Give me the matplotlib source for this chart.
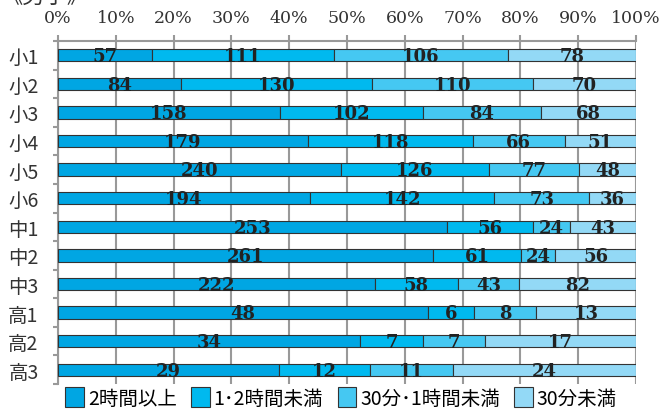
import matplotlib.pyplot as plt
import numpy as np

grades = ['小1', '小2', '小3', '小4', '小5', '小6', '中1', '中2', '中3', '高1', '高2', '高3']
over_2h = [57, 84, 158, 179, 240, 194, 253, 261, 222, 48, 34, 29]
h1_to_2 = [111, 130, 102, 118, 126, 142, 56, 61, 58, 6, 7, 12]
m30_to_1h = [106, 110, 84, 66, 77, 73, 24, 24, 43, 8, 7, 11]
under_30m = [78, 70, 68, 51, 48, 36, 43, 56, 82, 13, 17, 24]
legend_labels = ['2時間以上', '1･2時間未満', '30分･1時間未満', '30分未満']

colors = ['#00a6e3', '#00b9ef', '#45c8f2', '#93d9f6']
cjk = ['Noto Sans CJK JP', 'DejaVu Sans']

series = np.array([over_2h, h1_to_2, m30_to_1h, under_30m], dtype=float)
pct = series / series.sum(axis=0) * 100

fig = plt.figure(figsize=(6.61, 4.10), dpi=100)
ax = fig.add_axes([58 / 661, 1 - 385 / 410, (636 - 58) / 661, (385 - 42) / 410])

y = np.arange(len(grades))
left = np.zeros(len(grades))
for k in range(4):
    ax.barh(y, pct[k], left=left, height=0.43, color=colors[k],
            edgecolor='#333333', linewidth=0.8, label=legend_labels[k], zorder=3)
    for i in range(len(grades)):
        ax.text(left[i] + pct[k][i] / 2, y[i] + 0.03, f'{int(series[k][i])}',
                ha='center', va='center', fontsize=13, fontweight='bold',
                family='DejaVu Serif', color='#222222', zorder=4)
    left += pct[k]

ax.set_xlim(0, 100)
ax.set_ylim(len(grades) - 0.5, -0.5)

# percent scale along the top
ax.xaxis.tick_top()
ax.set_xticks(np.arange(0, 101, 10))
ax.set_xticklabels([f'{v}%' for v in range(0, 101, 10)], family='DejaVu Serif',
                   fontsize=12.5, color='#333333')
ax.tick_params(axis='x', direction='out', length=4.5, width=1.5, color='#999999', pad=6)
ax.grid(axis='x', color='#999999', linewidth=1.5, zorder=0)

ax.set_yticks(y)
ax.set_yticklabels(grades, family=cjk, fontsize=14, color='#333333')
ax.set_yticks(np.arange(-0.5, len(grades)), minor=True)
ax.tick_params(axis='y', which='major', length=0, pad=14)
ax.tick_params(axis='y', which='minor', direction='out', length=3.6, width=1.5, color='#999999')

for s in ['right', 'bottom']:
    ax.spines[s].set_visible(False)
for s in ['left', 'top']:
    ax.spines[s].set_color('#999999')
    ax.spines[s].set_linewidth(1.5)

fig.text(0.0, 1 - 8 / 410, '《男子》', family=cjk, fontsize=16, va='bottom', color='#333333')

fig.legend(loc='center', bbox_to_anchor=(0.516, 1 - 399 / 410), ncol=4, frameon=False,
           handlelength=0.95, handleheight=1.15, handletextpad=0.2, columnspacing=0.75,
           borderpad=0.0, prop={'family': cjk, 'size': 14})

fig.savefig('out.png', dpi=100)
